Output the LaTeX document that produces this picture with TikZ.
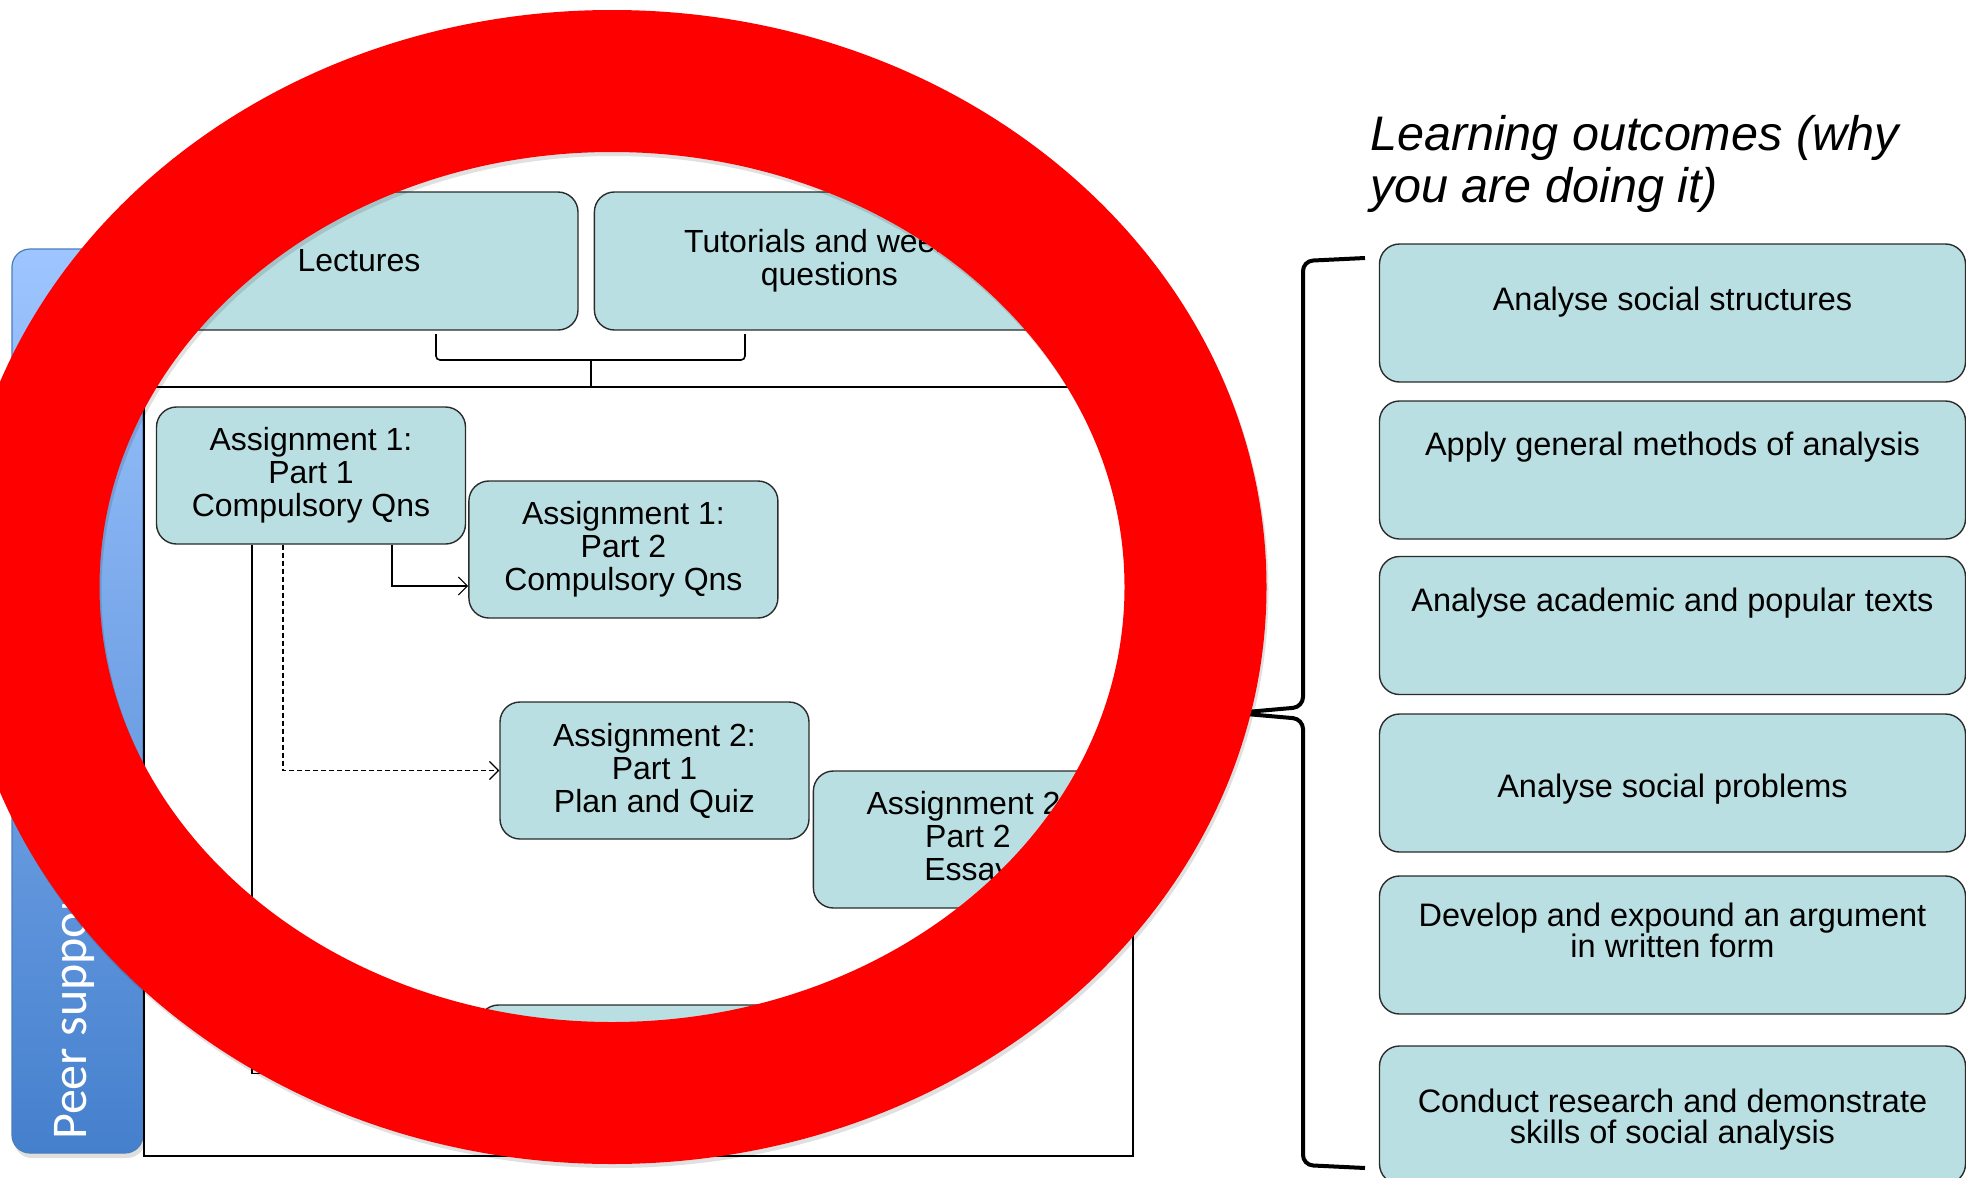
\documentclass[tikz,border=0pt]{standalone}
\usepackage{fontspec}
\setmainfont{Liberation Sans}
\newfontfamily\peerfont{Carlito}
\usetikzlibrary{arrows.meta, positioning, calc, shadows}

\definecolor{boxteal}{HTML}{BADFE2}
\definecolor{boxline}{HTML}{2B2B2B}
\definecolor{peertop}{HTML}{9EC5FF}
\definecolor{peerbot}{HTML}{4580CD}
\definecolor{peeredge}{HTML}{4A7EBB}

\tikzset{
    task/.style={draw=boxline, line width=1.4pt, fill=boxteal, rounded corners=20pt,
        align=center, inner sep=0pt, font=\fontsize{32}{33}\selectfont},
    asgbox/.style={task, minimum width=309pt, minimum height=137pt},
    outcome/.style={task, minimum width=586pt, minimum height=138pt},
    otext/.style={align=center, inner sep=0pt, anchor=north, font=\fontsize{32.5}{31}\selectfont},
    link/.style={line width=1.2pt, -{Straight Barb[length=9pt, width=18pt]}},
}

\begin{document}
\begin{tikzpicture}[x=1pt, y=-1pt]
    \clip (0,0) rectangle (1966,1178);

    % peer support bar
    \node[draw=peeredge, line width=1.2pt, rounded corners=18pt, top color=peertop, bottom color=peerbot,
        minimum width=131pt, minimum height=904pt,
        drop shadow={opacity=0.25, shadow xshift=2pt, shadow yshift=-5pt}] (peer) at (77.5,701) {};
    \node[rotate=90, anchor=base west, text=white, inner sep=0pt,
        font=\peerfont\fontsize{50}{50}\selectfont] (peerlbl) at (86,1140) {Peer support};

    % what you are doing
    \node[draw, line width=1.5pt, minimum width=989pt, minimum height=769pt] (frame) at (638.5,771.5) {};
    \node[task, minimum width=438pt, minimum height=138pt] (lect) at (359,261) {Lectures};
    \node[task, minimum width=470pt, minimum height=138pt, right=15pt of lect] (tut) {Tutorials and weekly\\questions};
    \draw[line width=1.6pt, rounded corners=4pt] (436,334) |- (745,360) -- (745,334);
    \draw[line width=1.6pt] (591,360) -- (frame.north -| 591,0);

    \node[asgbox] (asg1a) at (311,475.5) {Assignment 1:\\Part 1\\Compulsory Qns};
    \node[asgbox, right=2pt of asg1a, yshift=-74pt] (asg1b) {Assignment 1:\\Part 2\\Compulsory Qns};
    \node[asgbox] (asg2a) at (654.5,770.5) {Assignment 2:\\Part 1\\Plan and Quiz};
    \node[asgbox, right=3pt of asg2a, yshift=-69pt] (asg2b) {Assignment 2:\\Part 2\\Essay};
    \node[asgbox] (asg3) at (633,1073.5) {};

    \draw[link] ([xshift=81pt]asg1a.south) |- ([yshift=-36.5pt]asg1b.west);
    \draw[link, dash pattern=on 5pt off 3pt] ([xshift=-28pt]asg1a.south) |- (asg2a.west);
    \draw[link] ([xshift=-59pt]asg1a.south) |- (asg3.west);

    % learning outcomes
    \node[anchor=north west, align=left, inner sep=0pt, font=\itshape\fontsize{48.5}{52}\selectfont]
        (lotitle) at (1370,115) {Learning outcomes (why\\you are doing it)};

    \node[outcome] (lo1) at (1672.5,313) {};
    \node[outcome] (lo2) at (1672.5,470) {};
    \node[outcome] (lo3) at (1672.5,625.5) {};
    \node[outcome] (lo4) at (1672.5,783) {};
    \node[outcome] (lo5) at (1672.5,945) {};
    \node[outcome] (lo6) at (1672.5,1115) {};

    \node[otext] (lo1txt) at ($(lo1.north)+(0,43)$) {Analyse social structures};
    \node[otext] (lo2txt) at ($(lo2.north)+(0,31)$) {Apply general methods of analysis};
    \node[otext] (lo3txt) at ($(lo3.north)+(0,32)$) {Analyse academic and popular texts};
    \node[otext] (lo4txt) at ($(lo4.north)+(0,60)$) {Analyse social problems};
    \node[otext] (lo5txt) at ($(lo5.north)+(0,27)$) {Develop and expound an argument\\in written form};
    \node[otext] (lo6txt) at ($(lo6.north)+(0,43)$) {Conduct research and demonstrate\\skills of social analysis};

    \draw[line width=4pt, rounded corners=10pt] (1365,258) -- (1303,261) -- (1303,707) -- (1235,713)
        -- (1303,719) -- (1303,1165) -- (1365,1168);

    % red ring over the left part
    \draw[black, opacity=0.12, line width=142pt] (614,591) ellipse [x radius=583.5, y radius=506];
    \draw[red, line width=142pt] (612,587) ellipse [x radius=583.5, y radius=506];
\end{tikzpicture}
\end{document}
